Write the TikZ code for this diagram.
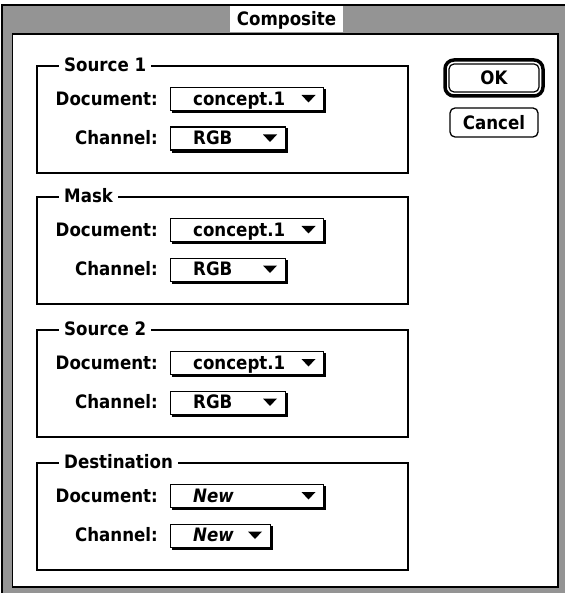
\documentclass[tikz,border=0pt]{standalone}
\usepackage{fontspec}
\newfontfamily\macfont{DejaVu Sans Condensed}
\begin{document}
\begin{tikzpicture}[x=1pt,y=-1pt,
  lbl/.style={font=\macfont\bfseries\fontsize{18.5}{20}\selectfont, inner sep=0pt},
  boxline/.style={line width=1.3pt},
  popup/.style={draw, line width=1.2pt, fill=white, inner sep=0pt},
  shadowline/.style={line width=2pt},
  ttl/.style={lbl, fill=white, inner xsep=5pt, inner ysep=1pt}]
\useasboundingbox (0,0) rectangle (564,593);
\fill[white] (0,0) rectangle (564,593);
% window frame
\draw[fill=black!42, line width=1.2pt] (2,5) rectangle (567,597);
\draw[fill=white, line width=1.5pt] (12.5,34) rectangle (558,587);
\fill[white] (230,6) rectangle (343,32.5);
\node[lbl] (title) at (286.5,20) {Composite};
% groups
\foreach \i/\T/\ttltext/\dval/\cval/\fs/\cw in
  {s1/66/Source 1/concept.1/RGB/\upshape/115,
   mk/197/Mask/concept.1/RGB/\upshape/115,
   s2/330/Source 2/concept.1/RGB/\upshape/115,
   ds/463/Destination/New/New/\itshape/100}{
  \draw[boxline] (37,\T) rectangle (408,\T+107);
  \node[ttl, anchor=west] (\i t) at (59,\T-1.5) {\ttltext};
  \node[lbl, anchor=base east] (\i dl) at (158,\T+39.2) {Document:};
  \node[lbl, anchor=base east] (\i cl) at (158,\T+78.7) {Channel:};
  % document popup
  \node[popup, minimum width=153pt, minimum height=23pt, anchor=north west] (\i dp) at (170,\T+21) {};
  \draw[shadowline] ([xshift=2pt,yshift=-1pt]\i dp.south west) -- ([xshift=1pt,yshift=-1pt]\i dp.south east) -- ([xshift=1pt,yshift=-2pt]\i dp.north east);
  \node[lbl, anchor=base west] (\i dv) at (193,\T+39.2) {\fs\dval};
  \fill (301.5,\T+29) -- (315.5,\T+29) -- (308.5,\T+36.5) -- cycle;
  % channel popup
  \node[popup, minimum width=\cw pt, minimum height=23pt, anchor=north west] (\i cp) at (170,\T+60.5) {};
  \draw[shadowline] ([xshift=2pt,yshift=-1pt]\i cp.south west) -- ([xshift=1pt,yshift=-1pt]\i cp.south east) -- ([xshift=1pt,yshift=-2pt]\i cp.north east);
  \node[lbl, anchor=base west] (\i cv) at (193,\T+78.7) {\fs\cval};
  \fill (170+\cw-22,\T+68.5) -- (170+\cw-8,\T+68.5) -- (170+\cw-15,\T+76) -- cycle;
}
% buttons
\node[draw, line width=3.5pt, rounded corners=9pt, minimum width=98pt, minimum height=36pt, inner sep=0pt] (okring) at (494,78) {};
\node[lbl, draw, line width=1.2pt, rounded corners=5pt, minimum width=90pt, minimum height=28pt] (ok) at (494,78) {OK};
\node[lbl, draw, line width=1.3pt, rounded corners=5pt, minimum width=88pt, minimum height=29pt] (cancel) at (494,122.5) {Cancel};
\end{tikzpicture}
\end{document}
